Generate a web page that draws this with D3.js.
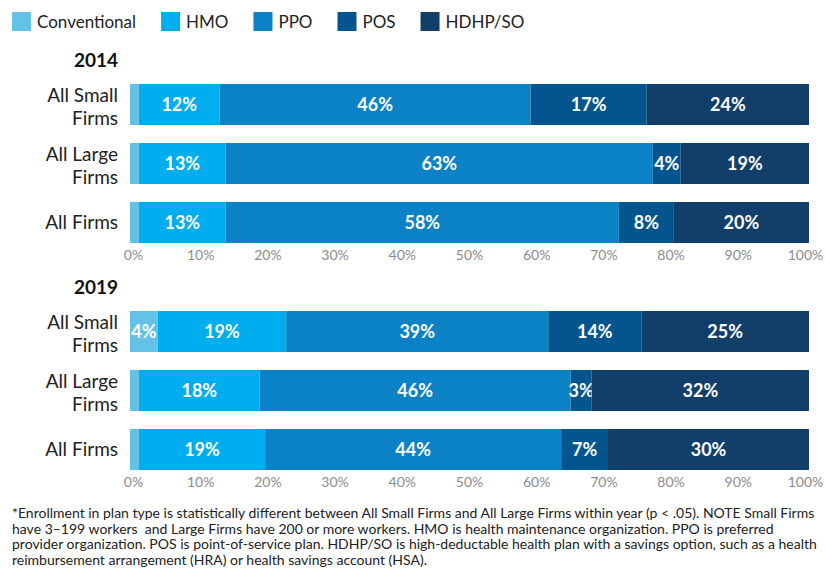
<!DOCTYPE html>
<html>
<head>
<meta charset="utf-8">
<script src="https://cdn.jsdelivr.net/npm/d3@7"></script>
<style>
  body { margin: 0; background: #fff; }
  svg { font-family: Lato, "Open Sans", sans-serif; display: block; }
  .tick text { fill: #8c8c8c; font-size: 14px; }
</style>
</head>
<body>
<div id="chart-area"></div>
<script>
// Plan types (stack order) and colours
var planTypes = ["Conventional", "HMO", "PPO", "POS", "HDHP/SO"];
var planColors = ["#64c2e6", "#00aeef", "#0b82c5", "#04558d", "#113f69"];

var categories = ["All Small Firms", "All Large Firms", "All Firms"];
var categoryLines = [["All Small", "Firms"], ["All Large", "Firms"], ["All Firms"]];
var years = ["2014", "2019"];

// Enrollment share (%) per category, one array per plan type
var conventional2014 = [1.3, 1.3, 1.3];
var hmo2014          = [11.9, 12.8, 12.8];
var ppo2014          = [45.8, 62.9, 57.9];
var pos2014          = [17.1, 4.1, 8.1];
var hdhp2014         = [23.9, 18.9, 19.9];

var conventional2019 = [4.1, 1.3, 1.3];
var hmo2019          = [18.9, 17.8, 18.6];
var ppo2019          = [38.6, 45.8, 43.6];
var pos2019          = [13.7, 3.1, 6.9];
var hdhp2019         = [24.7, 32.0, 29.6];

var xTicks = [0, 10, 20, 30, 40, 50, 60, 70, 80, 90, 100];

var footnote = [
    "*Enrollment in plan type is statistically different between All Small Firms and All Large Firms within year (p < .05). NOTE Small Firms",
    "have 3\u2013199 workers  and Large Firms have 200 or more workers. HMO is health maintenance organization. PPO is preferred",
    "provider organization. POS is point-of-service plan. HDHP/SO is high-deductable health plan with a savings option, such as a health",
    "reimbursement arrangement (HRA) or health savings account (HSA)."
];

function buildRows(series) {
    return categories.map(function(c, i) {
        var row = { category: c };
        planTypes.forEach(function(p, j) { row[p] = series[j][i]; });
        return row;
    });
}

var panels = [
    { year: years[0], top: 84,  rows: buildRows([conventional2014, hmo2014, ppo2014, pos2014, hdhp2014]) },
    { year: years[1], top: 311, rows: buildRows([conventional2019, hmo2019, ppo2019, pos2019, hdhp2019]) }
];

var width = 825, height = 571;

var svg = d3.select("#chart-area").append("svg")
    .attr("width", width)
    .attr("height", height);

var color = d3.scaleOrdinal().domain(planTypes).range(planColors);
var x = d3.scaleLinear().domain([0, 100]).range([130, 809]);
// tick labels sit slightly inset from the bar ends
var xLabels = d3.scaleLinear().domain([0, 100]).range([133, 805]);
var stack = d3.stack().keys(planTypes);

/******************** Legend ********************/
var legend = svg.append("g").attr("class", "legend");
var lx = 12;
planTypes.forEach(function(p) {
    legend.append("rect")
        .attr("x", lx).attr("y", 12)
        .attr("width", 19).attr("height", 19)
        .attr("fill", color(p));
    var t = legend.append("text")
        .attr("x", lx + 25).attr("y", 28)
        .attr("font-size", "17px")
        .attr("fill", "#222")
        .text(p);
    lx += 25 + t.node().getComputedTextLength() + 25;
});

/******************** Panels ********************/
panels.forEach(function(panel) {
    var y = d3.scaleBand()
        .domain(categories)
        .range([panel.top, panel.top + 159])
        .paddingInner(18 / 59);

    var g = svg.append("g").attr("class", "panel-" + panel.year);

    // Year title
    g.append("text")
        .attr("x", 118)
        .attr("y", panel.top - 17)
        .attr("text-anchor", "end")
        .attr("font-size", "19px")
        .attr("font-weight", "bold")
        .attr("fill", "#111")
        .text(panel.year);

    // Category labels
    categories.forEach(function(c, i) {
        var lines = categoryLines[i];
        var cy = y(c) + y.bandwidth() / 2;
        var t = g.append("text")
            .attr("text-anchor", "end")
            .attr("font-size", "19px")
            .attr("fill", "#222");
        lines.forEach(function(line, k) {
            t.append("tspan")
                .attr("x", 118)
                .attr("y", lines.length === 1 ? cy + 6 : cy - 3 + k * 23)
                .text(line);
        });
    });

    var series = stack(panel.rows);

    var layers = g.selectAll(".layer")
        .data(series)
        .enter().append("g")
        .attr("class", "layer")
        .attr("fill", function(d) { return color(d.key); });

    layers.selectAll("rect")
        .data(function(d) { return d; })
        .enter().append("rect")
        .attr("x", function(d) { return x(d[0]); })
        .attr("y", function(d) { return y(d.data.category); })
        .attr("width", function(d) { return x(d[1]) - x(d[0]); })
        .attr("height", y.bandwidth());

    layers.selectAll("text")
        .data(function(d) { return d.filter(function(s) { return s[1] - s[0] >= 2; }); })
        .enter().append("text")
        .attr("x", function(d) { return (x(d[0]) + x(d[1])) / 2; })
        .attr("y", function(d) { return y(d.data.category) + y.bandwidth() / 2 + 6.5; })
        .attr("text-anchor", "middle")
        .attr("font-size", "18px")
        .attr("font-weight", "bold")
        .attr("fill", "#fff")
        .text(function(d) { return Math.round(d[1] - d[0]) + "%"; });

    // Axis (labels only)
    var axis = d3.axisBottom(xLabels)
        .tickValues(xTicks)
        .tickSize(0)
        .tickPadding(4)
        .tickFormat(function(d) { return d + "%"; });

    var axisG = g.append("g")
        .attr("class", "x axis")
        .attr("transform", "translate(0," + (panel.top + 162) + ")")
        .call(axis);
    axisG.select(".domain").remove();
    axisG.selectAll("text").attr("font-family", "Lato, sans-serif");
});

/******************** Footnote ********************/
var note = svg.append("text")
    .attr("font-size", "14px")
    .attr("fill", "#222")
    .style("white-space", "pre");
footnote.forEach(function(line, i) {
    note.append("tspan")
        .attr("x", 12)
        .attr("y", 518 + i * 15.5)
        .text(line);
});
</script>
</body>
</html>
